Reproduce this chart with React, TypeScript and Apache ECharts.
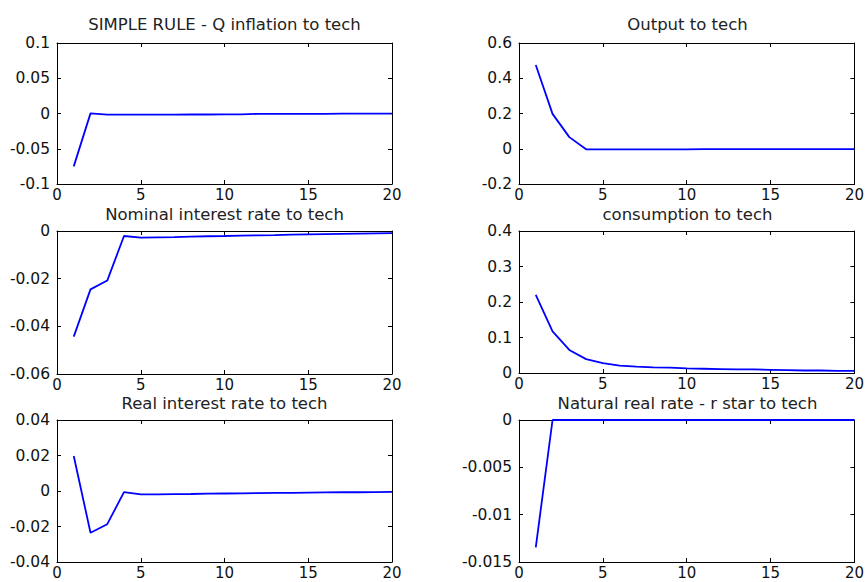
import React, { useEffect, useRef } from "react";
import * as echarts from "echarts";

const periods = [1, 2, 3, 4, 5, 6, 7, 8, 9, 10, 11, 12, 13, 14, 15, 16, 17, 18, 19, 20];

const inflationTech = [
  -0.075, 0.0002, -0.0015, -0.0015, -0.0015, -0.0015, -0.0015, -0.0014, -0.0014, -0.0013,
  -0.0012, -0.0006, -0.0005, -0.0005, -0.0004, -0.0004, -0.0003, -0.0003, -0.0002, -0.0002,
];
const outputTech = [
  0.475, 0.198, 0.066, -0.003, -0.003, -0.003, -0.003, -0.003, -0.003, -0.003,
  -0.002, -0.002, -0.002, -0.002, -0.002, -0.002, -0.002, -0.002, -0.002, -0.002,
];
const nominalRateTech = [
  -0.0443, -0.0245, -0.0208, -0.0021, -0.0028, -0.0027, -0.0026, -0.0024, -0.0022, -0.0021,
  -0.0019, -0.0018, -0.0017, -0.0015, -0.0014, -0.0013, -0.0012, -0.0011, -0.001, -0.0009,
];
const consumptionTech = [
  0.22, 0.117, 0.065, 0.039, 0.028, 0.021, 0.018, 0.016, 0.015, 0.013,
  0.012, 0.011, 0.01, 0.01, 0.009, 0.008, 0.007, 0.007, 0.006, 0.006,
];
const realRateTech = [
  0.0197, -0.0235, -0.0187, -0.0006, -0.0019, -0.0019, -0.0018, -0.0017, -0.0015, -0.0014,
  -0.0013, -0.0012, -0.001, -0.001, -0.0009, -0.0008, -0.0007, -0.0007, -0.0006, -0.0005,
];
const naturalRateTech = [
  -0.01345, 0, 0, 0, 0, 0, 0, 0, 0, 0,
  0, 0, 0, 0, 0, 0, 0, 0, 0, 0,
];

const titles = [
  "SIMPLE RULE - Q inflation to tech",
  "Output to tech",
  "Nominal interest rate to tech",
  "consumption to tech",
  "Real interest rate to tech",
  "Natural real rate - r star to tech",
];
const seriesValues = [inflationTech, outputTech, nominalRateTech, consumptionTech, realRateTech, naturalRateTech];
const yMins = [-0.1, -0.2, -0.06, 0, -0.04, -0.015];
const yMaxs = [0.1, 0.6, 0, 0.4, 0.04, 0];
const yIntervals = [0.05, 0.2, 0.02, 0.1, 0.02, 0.005];
const xMin = 0;
const xMax = 20;
const xInterval = 5;

const panels = [
  { left: 57, top: 43, width: 335, height: 141, titleY: 24 },
  { left: 519, top: 43, width: 337, height: 141, titleY: 24 },
  { left: 57, top: 231, width: 335, height: 143, titleY: 214 },
  { left: 519, top: 231, width: 337, height: 142, titleY: 214 },
  { left: 57, top: 420, width: 335, height: 142, titleY: 403 },
  { left: 519, top: 420, width: 337, height: 142, titleY: 403 },
];

const FONT = "DejaVu Sans";
const fmt = (v: number) => {
  if (Math.abs(v) < 1e-12) return "0";
  return String(parseFloat(v.toFixed(6)));
};

export default function App() {
  const ref = useRef<HTMLDivElement>(null);
  useEffect(() => {
    if (!ref.current) return;
    const chart = echarts.init(ref.current, undefined, { renderer: "svg" });
    const grid: any[] = [];
    const xAxis: any[] = [];
    const yAxis: any[] = [];
    const series: any[] = [];
    const graphic: any[] = [];
    const axisLine = { show: true, onZero: false, lineStyle: { color: "#000", width: 1 } };
    const tick = { show: true, inside: true, length: 4, lineStyle: { color: "#000" } };
    panels.forEach((p, i) => {
      grid.push({ left: p.left, top: p.top, width: p.width, height: p.height, containLabel: false });
      const xBase = {
        type: "value", gridIndex: i, min: xMin, max: xMax, interval: xInterval,
        axisLine, axisTick: tick, splitLine: { show: false },
      };
      xAxis.push({
        ...xBase, position: "bottom",
        axisLabel: {
          show: true, margin: 5, color: "#111", fontFamily: FONT, fontSize: 15,
          lineHeight: 12, formatter: fmt,
        },
      });
      xAxis.push({ ...xBase, position: "top", axisLabel: { show: false } });
      const yBase = {
        type: "value", gridIndex: i, min: yMins[i], max: yMaxs[i], interval: yIntervals[i],
        axisLine, axisTick: tick, splitLine: { show: false },
      };
      yAxis.push({
        ...yBase, position: "left",
        axisLabel: {
          show: true, margin: 7, color: "#111", fontFamily: FONT, fontSize: 15.5,
          lineHeight: 12, formatter: fmt,
        },
      });
      yAxis.push({ ...yBase, position: "right", axisLabel: { show: false } });
      series.push({
        type: "line", xAxisIndex: 2 * i, yAxisIndex: 2 * i,
        data: periods.map((x, k) => [x, seriesValues[i][k]]),
        showSymbol: false, symbol: "none",
        lineStyle: { color: "#0000ff", width: 1.8 },
        clip: true,
      });
      graphic.push({
        type: "text",
        x: p.left + p.width / 2,
        y: p.titleY,
        style: {
          text: titles[i], fill: "#222", fontFamily: FONT, fontSize: 16.5,
          lineHeight: 12, textAlign: "center", textVerticalAlign: "middle",
        },
      });
    });
    chart.setOption({
      animation: false,
      backgroundColor: "#fff",
      grid, xAxis, yAxis, series, graphic,
    });
    return () => chart.dispose();
  }, []);
  return (
    <div
      ref={ref}
      style={{ position: "absolute", left: 0, top: 0, width: 867, height: 582 }}
    />
  );
}
